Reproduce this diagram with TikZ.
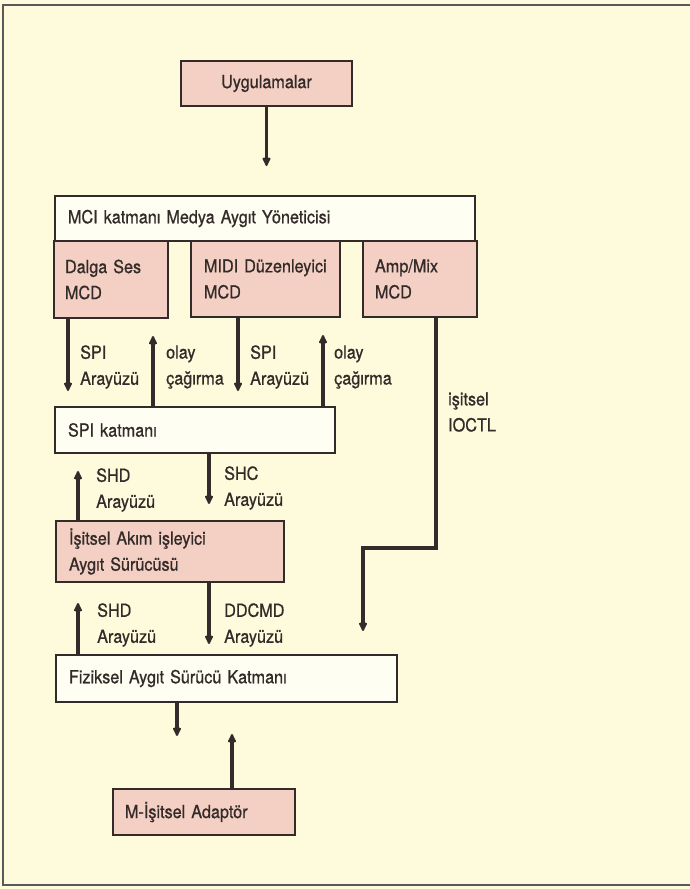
\documentclass[tikz,border=0pt]{standalone}
\usepackage{fontspec}
\setmainfont{TeX Gyre Heros}[FakeStretch=0.9,FakeBold=0.8]
\usetikzlibrary{arrows.meta}
\definecolor{cream}{HTML}{FEFBDC}
\definecolor{rose}{HTML}{F4CFC3}
\definecolor{paper}{HTML}{FFFEF2}
\definecolor{ink}{HTML}{332B29}

\begin{document}
\begin{tikzpicture}[x=1pt,y=-1pt,
    font=\fontsize{18}{26}\selectfont, text=ink,
    box/.style={draw=ink, line width=2, inner xsep=13, inner ysep=0, align=left},
    pbox/.style={box, fill=rose},
    wbox/.style={box, fill=paper},
    lbl/.style={anchor=west, inner sep=0, align=left},
    arr/.style={draw=ink, line width=3.4, -{Latex[length=11,width=10,round]}}]
  \useasboundingbox (0,0) rectangle (690,889);
  \fill[cream] (0,0) rectangle (690,889);
  \draw[gray!70!black, line width=2.2] (690,5) -- (3,5) -- (3,885) -- (690,885);

  % boxes
  \node[pbox, align=center, minimum width=171, minimum height=45] (app) at (266.5,83.5) {Uygulamalar};
  \node[wbox, text width=394, minimum height=45] (mci) at (265,218.5) {MCI katmanı Medya Aygıt Yöneticisi};
  \node[pbox, inner xsep=11, text width=92, minimum height=77] (dalga) at (111,279.5) {Dalga Ses\\MCD};
  \node[pbox, text width=123, minimum height=76] (midi) at (265.5,279) {MIDI Düzenleyici\\MCD};
  \node[pbox, inner xsep=12, text width=90, minimum height=76] (amp) at (420,279) {Amp/Mix\\MCD};
  \node[wbox, text width=254, minimum height=46] (spi) at (195,430) {SPI katmanı};
  \node[pbox, text width=202, minimum height=61] (akim) at (170,551.5) {İşitsel Akım işleyici\\Aygıt Sürücüsü};
  \node[wbox, text width=315, minimum height=47] (fiz) at (226.5,678.5) {Fiziksel Aygıt Sürücü Katmanı};
  \node[pbox, inner xsep=12, text width=158, minimum height=46] (adaptor) at (204,812) {M-İşitsel Adaptör};

  % columns of the connectors
  \coordinate (c1) at (68,0);
  \coordinate (c2) at (153,0);
  \coordinate (c3) at (238,0);
  \coordinate (c4) at (323,0);
  \coordinate (c5) at (436,0);
  \coordinate (c6) at (363,0);
  \coordinate (c7) at (78,0);
  \coordinate (c8) at (209,0);
  \coordinate (c9) at (177,0);
  \coordinate (c10) at (232,0);
  \coordinate (bend) at (436,548);

  % connectors
  \draw[arr, shorten >=29] (app) -- (app.south |- mci.north);
  \draw[arr, shorten >=15] (dalga.south -| c1) -- (spi.north -| c1);
  \draw[arr, shorten >=17] (spi.north -| c2) -- (dalga.south -| c2);
  \draw[arr, shorten >=15] (midi.south -| c3) -- (spi.north -| c3);
  \draw[arr, shorten >=17] (spi.north -| c4) -- (midi.south -| c4);
  \draw[arr, shorten >=23] (amp.south -| c5) -- (bend) -- (bend -| c6) -- (fiz.north -| c6);
  \draw[arr, shorten >=17] (akim.north -| c7) -- (spi.south -| c7);
  \draw[arr, shorten >=16] (spi.south -| c8) -- (akim.north -| c8);
  \draw[arr, shorten >=20] (fiz.north -| c7) -- (akim.south -| c7);
  \draw[arr, shorten >=10] (akim.south -| c8) -- (fiz.north -| c8);
  \draw[arr, shorten >=52] (fiz.south -| c9) -- (adaptor.north -| c9);
  \draw[arr, shorten >=31] (adaptor.north -| c10) -- (fiz.south -| c10);

  % labels
  \node[lbl] (spi1) at (80,367) {SPI\\Arayüzü};
  \node[lbl] (olay1) at (166,367) {olay\\çağırma};
  \node[lbl] (spi2) at (250,367) {SPI\\Arayüzü};
  \node[lbl] (olay2) at (334,367) {olay\\çağırma};
  \node[lbl] (ioctl) at (448,412) {işitsel\\IOCTL};
  \node[lbl] (shd1) at (96,490) {SHD\\Arayüzü};
  \node[lbl] (shc) at (224,488) {SHC\\Arayüzü};
  \node[lbl] (shd2) at (97,625) {SHD\\Arayüzü};
  \node[lbl] (ddcmd) at (224,625) {DDCMD\\Arayüzü};
\end{tikzpicture}
\end{document}
